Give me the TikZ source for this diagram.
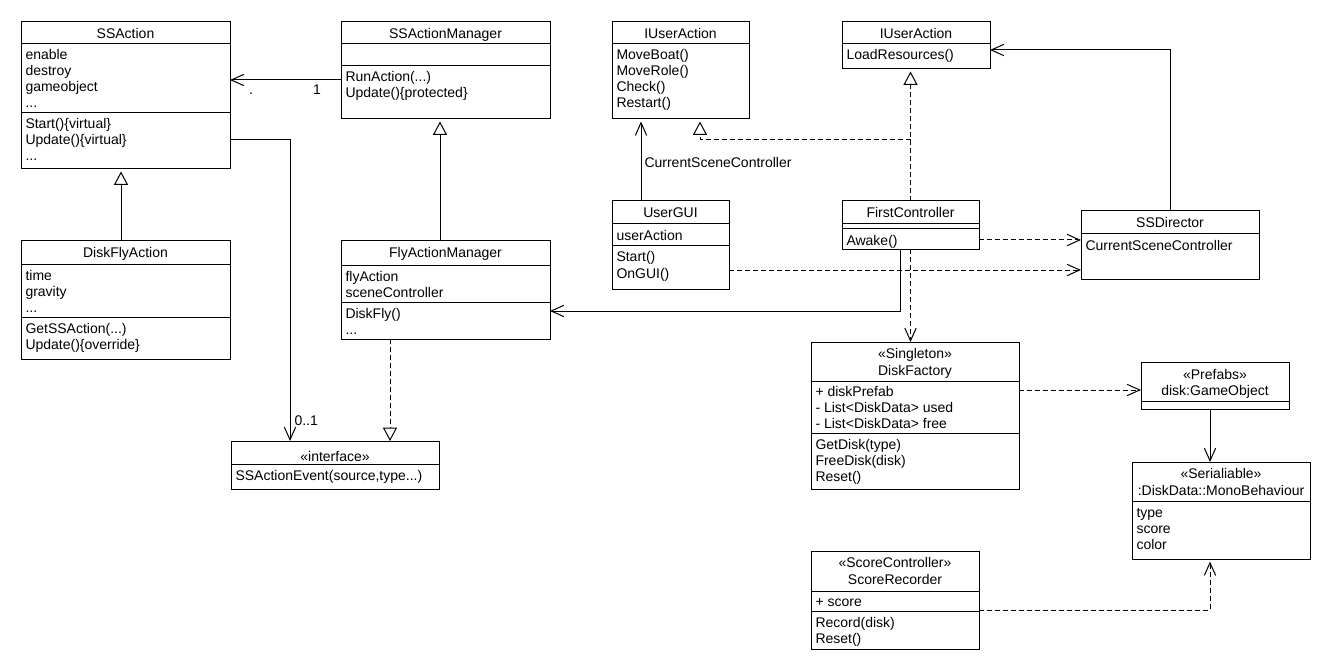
\documentclass[tikz,border=0pt]{standalone}
\usepackage{fontspec}
\setmainfont{Liberation Sans}
\usetikzlibrary{arrows.meta}
\newcommand\umlfont{\fontsize{10.5}{12}\selectfont}
\newcommand\etc{...}
% class box: name, left, top, right, bottom (in px)
\newcommand\umlbox[5]{\node[box, minimum width={(#4-#2)*0.75pt}, minimum height={(#5-#3)*0.75pt}] (#1) at (#2,#3) {};}
\newcommand\umlsep[2]{\draw (#1.west |- 0,#2) -- (#1.east |- 0,#2);}
\newcommand\umllines[4]{\foreach \m [count=\k from 0] in {#4} \node[txt] (#1\k) at (#2,#3+16*\k) {\m};}
\begin{document}
\begin{tikzpicture}[x=0.75pt, y=-0.75pt, line width=0.75pt, font=\umlfont,
    box/.style={draw, anchor=north west, inner sep=0pt, outer sep=0pt},
    ttl/.style={anchor=base, inner sep=0pt},
    txt/.style={anchor=base west, inner sep=0pt},
    assoc/.style={-{Straight Barb[length=9.5pt, width=8.5pt]}},
    dep/.style={assoc, dash pattern=on 3.75pt off 2.25pt},
    inherit/.style={-{Triangle[open, length=10pt, width=10.5pt]}},
    realize/.style={inherit, dash pattern=on 3.75pt off 2.25pt},
    up/.style={shorten >=1.9pt}]
  \useasboundingbox (0,0) rectangle (1330,670);

  % SSAction
  \umlbox{ssa}{21}{22}{230}{169}
  \umlsep{ssa}{44} \umlsep{ssa}{113}
  \node[ttl] (ssa-t) at (ssa.north |- 0,38.5) {SSAction};
  \umllines{ssa-a}{25}{60}{enable,destroy,gameobject,\etc}
  \umllines{ssa-m}{25}{129}{Start()\{virtual\},Update()\{virtual\},\etc}

  % SSActionManager
  \umlbox{ssam}{341}{22}{550}{119}
  \umlsep{ssam}{44} \umlsep{ssam}{66}
  \node[ttl] (ssam-t) at (ssam.north |- 0,38.5) {SSActionManager};
  \umllines{ssam-m}{345}{82}{RunAction(\etc),Update()\{protected\}}

  % DiskFlyAction
  \umlbox{dfa}{21}{241}{230}{359}
  \umlsep{dfa}{264} \umlsep{dfa}{317}
  \node[ttl] (dfa-t) at (dfa.north |- 0,257.5) {DiskFlyAction};
  \umllines{dfa-a}{25}{280}{time,gravity,\etc}
  \umllines{dfa-m}{25}{333}{GetSSAction(\etc),Update()\{override\}}

  % FlyActionManager
  \umlbox{fam}{341}{241}{550}{339}
  \umlsep{fam}{265} \umlsep{fam}{302}
  \node[ttl] (fam-t) at (fam.north |- 0,257.5) {FlyActionManager};
  \umllines{fam-a}{345}{281}{flyAction,sceneController}
  \umllines{fam-m}{345}{318}{DiskFly(),\etc}

  % interface
  \umlbox{ise}{231}{441}{439}{489}
  \umlsep{ise}{464}
  \node[ttl] (ise-t) at (ise.north |- 0,461) {«interface»};
  \umllines{ise-m}{235}{480}{{SSActionEvent(source,type\etc)}}

  % IUserAction
  \umlbox{iua}{612}{22}{749}{119}
  \umlsep{iua}{44}
  \node[ttl] (iua-t) at (iua.north |- 0,38.5) {IUserAction};
  \umllines{iua-m}{616}{60}{MoveBoat(),MoveRole(),Check(),Restart()}

  \umlbox{iub}{842}{22}{990}{69}
  \umlsep{iub}{44}
  \node[ttl] (iub-t) at (iub.north |- 0,38.5) {IUserAction};
  \umllines{iub-m}{846}{60}{LoadResources()}

  % UserGUI
  \umlbox{gui}{612}{201}{729}{289}
  \umlsep{gui}{224} \umlsep{gui}{246}
  \node[ttl] (gui-t) at (gui.north |- 0,217.5) {UserGUI};
  \umllines{gui-a}{616}{240}{userAction}
  \umllines{gui-m}{616}{262}{Start(),OnGUI()}

  % FirstController
  \umlbox{fc}{842}{201}{979}{249}
  \umlsep{fc}{224} \umlsep{fc}{229}
  \node[ttl] (fc-t) at (fc.north |- 0,217.5) {FirstController};
  \umllines{fc-m}{846}{245}{Awake()}

  % SSDirector
  \umlbox{ssd}{1081}{211}{1259}{279}
  \umlsep{ssd}{234}
  \node[ttl] (ssd-t) at (ssd.north |- 0,227.5) {SSDirector};
  \umllines{ssd-a}{1085}{250}{CurrentSceneController}

  % DiskFactory
  \umlbox{df}{811}{342}{1019}{489}
  \umlsep{df}{381} \umlsep{df}{433}
  \node[ttl] (df-s) at (df.north |- 0,358.5) {«Singleton»};
  \node[ttl] (df-t) at (df.north |- 0,375) {DiskFactory};
  \umllines{df-a}{815}{396}{+ diskPrefab,- List<DiskData> used,- List<DiskData> free}
  \umllines{df-m}{815}{449}{GetDisk(type),FreeDisk(disk),Reset()}

  % Prefabs
  \umlbox{pre}{1141}{362}{1289}{409}
  \umlsep{pre}{401}
  \node[ttl] (pre-s) at (pre.north |- 0,379) {«Prefabs»};
  \node[ttl] (pre-t) at (pre.north |- 0,395.5) {disk:GameObject};

  % Serialiable
  \umlbox{ser}{1132}{462}{1310}{559}
  \umlsep{ser}{501}
  \node[ttl] (ser-s) at (ser.north |- 0,478.5) {«Serialiable»};
  \node[ttl] (ser-t) at (ser.north |- 0,495) {:DiskData::MonoBehaviour};
  \umllines{ser-a}{1136}{517}{type,score,color}

  % ScoreRecorder
  \umlbox{sr}{811}{551}{979}{649}
  \umlsep{sr}{591} \umlsep{sr}{611}
  \node[ttl] (sr-s) at (sr.north |- 0,567.5) {«ScoreController»};
  \node[ttl] (sr-t) at (sr.north |- 0,584) {ScoreRecorder};
  \umllines{sr-a}{815}{606}{+ score}
  \umllines{sr-m}{815}{627}{Record(disk),Reset()}

  % connectors
  \draw[assoc] (ssam.west |- 0,80) -- (ssa.east |- 0,80);
  \node[ttl] (dot) at (251,95) {.};
  \node[ttl] (one) at (317,95) {1};
  \draw[inherit, up] (dfa.north -| 121,0) -- (ssa.south -| 121,0);
  \draw[assoc] (ssa.east |- 0,140) -| (ise.north -| 290,0);
  \node[txt] (mult) at (294,425) {0..1};
  \draw[inherit, up] (fam.north -| 440,0) -- (ssam.south -| 440,0);
  \draw[realize] (fam.south -| 390,0) -- (ise.north -| 390,0);
  \draw[assoc, up] (gui.north -| 641,0) -- (iua.south -| 641,0);
  \node[txt] (csc) at (644,168) {CurrentSceneController};
  \draw[realize, up] (fc.north) -- (iub.south -| fc.north);
  \coordinate (split) at (fc.north |- 0,140);
  \draw[realize, up] (split) -| (iua.south -| 700,0);
  \draw[dep] (fc.east |- 0,240) -- (ssd.west |- 0,240);
  \draw[dep] (gui.east |- 0,270) -- (ssd.west |- 0,270);
  \draw[assoc] (ssd.north) |- (iub.east |- 0,50);
  \draw[assoc] (fc.south -| 900,0) |- (fam.east |- 0,311);
  \draw[dep] (fc.south) -- (df.north -| fc.south);
  \draw[dep] (df.east |- 0,390) -- (pre.west |- 0,390);
  \draw[assoc] (pre.south -| 1210,0) -- (ser.north -| 1210,0);
  \draw[dep, up] (sr.east |- 0,610) -| (ser.south -| 1210,0);
\end{tikzpicture}
\end{document}
